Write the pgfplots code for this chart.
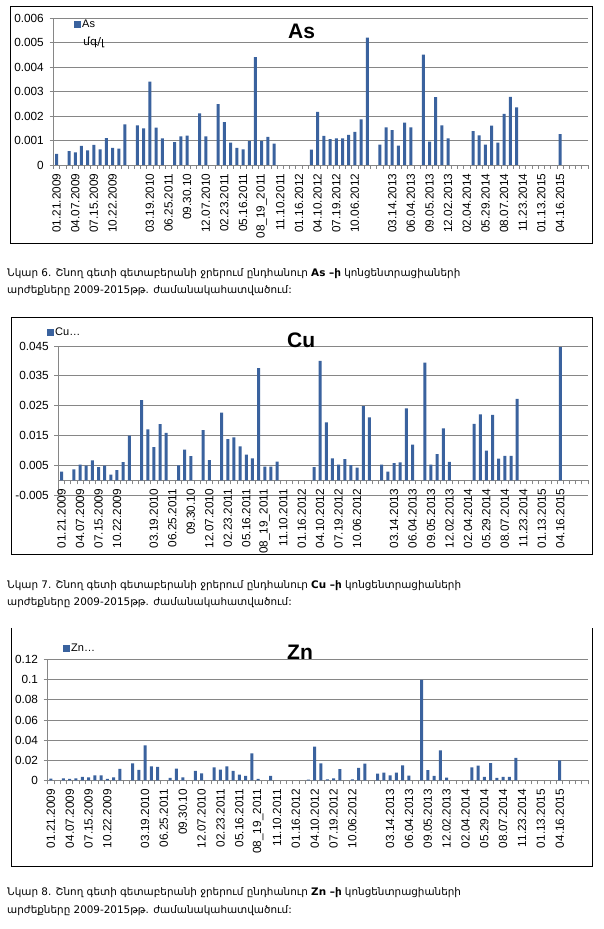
\documentclass[border=0pt]{standalone}
\usepackage{pgfplots}
\pgfplotsset{compat=1.18}
\usepackage{fontspec}
\setmainfont{Liberation Sans}
\newfontfamily\armfont{DejaVu Sans}
\definecolor{barcol}{RGB}{58,98,158}
\definecolor{gridcol}{RGB}{134,134,134}

\pgfplotsset{
  mybars/.style={
    scale only axis,
    xmin=-0.5, xmax=85.5,
    ybar, bar width=3pt,
    axis x line*=bottom, axis y line*=left,
    axis line style={gridcol, line width=0.8pt},
    ymajorgrids, major grid style={gridcol, line width=0.8pt},
    scaled y ticks=false,
    xtick={0,3,...,84},
    xticklabels={01.21.2009,04.07.2009,07.15.2009,10.22.2009,{},03.19.2010,06.25.2011,09.30.10,12.07.2010,02.23.2011,05.16.2011,08\_19\_2011,11.10.2011,01.16.2012,04.10.2012,07.19.2012,10.06.2012,{},03.14.2013,06.04.2013,09.05.2013,12.02.2013,02.04.2014,05.29.2014,08.07.2014,11.23.2014,01.13.2015,04.16.2015,{}},
    minor xtick={-0.5,0.5,...,85.5},
    major tick length=0pt, minor tick length=4pt,
    tick align=outside,
    tick style={gridcol, line width=0.8pt},
    xticklabel style={yshift=-7.5pt, rotate=90, anchor=east, font=\fontsize{11.8}{12}\selectfont, inner sep=1pt},
    yticklabel style={xshift=-8.5pt, font=\fontsize{11.8}{12}\selectfont, inner sep=1pt},
    legend style={draw=none, fill=none, font=\fontsize{11}{12}\selectfont, inner sep=0pt, nodes={inner sep=1pt}},
    legend image code/.code={\fill[barcol] (0pt,-3.5pt) rectangle (7pt,3.5pt);},
    cycle list={{fill=barcol, draw=none}},
  }
}

\begin{document}
\begin{tikzpicture}
\useasboundingbox (0pt,0pt) rectangle (603pt,929pt);
\fill[white] (0pt,0pt) rectangle (603pt,929pt);

% ---------------- As ----------------
\begin{axis}[mybars,
  at={(53.5pt,764pt)}, anchor=south west,
  width=534.5pt, height=147pt,
  ymin=0, ymax=0.006,
  ytick={0,0.001,0.002,0.003,0.004,0.005,0.006},
  minor ytick={0,0.001,0.002,0.003,0.004,0.005,0.006},
  yticklabels={0,0.001,0.002,0.003,0.004,0.005,0.006},
  legend style={at={(axis description cs:0.0384,0.959)}, anchor=west},
]
\addplot[fill=barcol, draw=none] coordinates {(0,0.00045) (2,0.00057) (3,0.00052) (4,0.00078) (5,0.0006) (6,0.00082) (7,0.00064) (8,0.0011) (9,0.0007) (10,0.00067) (11,0.00166) (13,0.00162) (14,0.00149) (15,0.0034) (16,0.00153) (17,0.00109) (19,0.00093) (20,0.00117) (21,0.0012) (23,0.00211) (24,0.00117) (26,0.00248) (27,0.00175) (28,0.00091) (29,0.0007) (30,0.00064) (31,0.00097) (32,0.0044) (33,0.00097) (34,0.00115) (35,0.00087) (41,0.00063) (42,0.00217) (43,0.00119) (44,0.00106) (45,0.00109) (46,0.00109) (47,0.00123) (48,0.00135) (49,0.00186) (50,0.0052) (52,0.00083) (53,0.00154) (54,0.00142) (55,0.00079) (56,0.00173) (57,0.00154) (59,0.0045) (60,0.00095) (61,0.00277) (62,0.00162) (63,0.00109) (67,0.00138) (68,0.00121) (69,0.00083) (70,0.00161) (71,0.00091) (72,0.00209) (73,0.00278) (74,0.00235) (81,0.00126)};
\addlegendentry{As}
\end{axis}

% ---------------- Cu ----------------
\begin{axis}[mybars,
  at={(58.5pt,433.7pt)}, anchor=south west,
  width=529.5pt, height=149.3pt,
  axis x line*=middle,
  tick align=outside,
  ymin=-0.005, ymax=0.045,
  ytick={-0.005,0.005,0.015,0.025,0.035,0.045},
  minor ytick={-0.005,0.005,0.015,0.025,0.035,0.045},
  yticklabels={-0.005,0.005,0.015,0.025,0.035,0.045},
  legend style={at={(axis description cs:-0.0217,1.09)}, anchor=west},
]
\addplot[fill=barcol, draw=none] coordinates {(0,0.0029) (2,0.0037) (3,0.0053) (4,0.0049) (5,0.0067) (6,0.0044) (7,0.0049) (8,0.0019) (9,0.0034) (10,0.0061) (11,0.015) (13,0.0269) (14,0.0171) (15,0.0111) (16,0.0188) (17,0.0159) (19,0.005) (20,0.0103) (21,0.0081) (23,0.0168) (24,0.0068) (26,0.0227) (27,0.0138) (28,0.0144) (29,0.0114) (30,0.0086) (31,0.0074) (32,0.0376) (33,0.0046) (34,0.0046) (35,0.0063) (41,0.0044) (42,0.04) (43,0.0194) (44,0.0074) (45,0.0053) (46,0.0071) (47,0.0051) (48,0.0043) (49,0.0249) (50,0.0211) (52,0.0053) (53,0.0029) (54,0.0058) (55,0.006) (56,0.0241) (57,0.012) (59,0.0394) (60,0.0053) (61,0.0088) (62,0.0174) (63,0.0062) (67,0.0189) (68,0.0221) (69,0.01) (70,0.0219) (71,0.0073) (72,0.0082) (73,0.0082) (74,0.0273) (81,0.0446)};
\addlegendentry{Cu…}
\end{axis}

% ---------------- Zn ----------------
\begin{axis}[mybars,
  at={(47.7pt,148.7pt)}, anchor=south west,
  width=540.3pt, height=120.6pt,
  ymin=0, ymax=0.12,
  ytick={0,0.02,0.04,0.06,0.08,0.1,0.12},
  minor ytick={0,0.02,0.04,0.06,0.08,0.1,0.12},
  yticklabels={0,0.02,0.04,0.06,0.08,0.1,0.12},
  legend style={at={(axis description cs:0.0283,1.097)}, anchor=west},
]
\addplot[fill=barcol, draw=none] coordinates {(0,0.0017) (2,0.002) (3,0.0013) (4,0.002) (5,0.0033) (6,0.003) (7,0.005) (8,0.005) (9,0.0013) (10,0.003) (11,0.0113) (13,0.0169) (14,0.0103) (15,0.0348) (16,0.0139) (17,0.0133) (19,0.0023) (20,0.0116) (21,0.003) (23,0.0093) (24,0.007) (26,0.0129) (27,0.0106) (28,0.0139) (29,0.0093) (30,0.0056) (31,0.0043) (32,0.0268) (33,0.0013) (35,0.0043) (41,0.0007) (42,0.0335) (43,0.0169) (44,0.001) (45,0.002) (46,0.011) (48,0.001) (49,0.0123) (50,0.0166) (52,0.0066) (53,0.0076) (54,0.005) (55,0.0076) (56,0.0149) (57,0.0046) (59,0.1) (60,0.01) (61,0.0043) (62,0.0298) (63,0.0027) (67,0.0129) (68,0.0146) (69,0.0033) (70,0.0172) (71,0.0023) (72,0.0033) (73,0.0033) (74,0.0222) (81,0.0199)};
\addlegendentry{Zn…}
\end{axis}

% titles
\node[anchor=base west, inner sep=0pt, font=\fontsize{21}{24}\selectfont\bfseries] at (288pt,890pt) {As};
\node[anchor=base west, inner sep=0pt, font=\fontsize{21}{24}\selectfont\bfseries] at (287pt,581pt) {Cu};
\node[anchor=base west, inner sep=0pt, font=\fontsize{21}{24}\selectfont\bfseries] at (287pt,269pt) {Zn};
\node[anchor=base west, inner sep=0pt, font=\armfont\fontsize{11}{12}\selectfont] at (83pt,883pt) {մգ/լ};

% frames
\draw[black, line width=0.9pt] (10pt,686pt) rectangle (592pt,923pt);
\draw[black, line width=0.9pt] (11pt,375pt) rectangle (592pt,612pt);
\draw[black, line width=0.9pt] (11pt,301pt) -- (11pt,63pt) -- (592pt,63pt) -- (592pt,301pt);

% captions
\begin{scope}[every node/.style={anchor=base west, inner sep=0pt, font=\armfont\fontsize{10.4}{12}\selectfont}]
\node at (7pt,652pt) {Նկար 6. Շնող գետի գետաբերանի ջրերում ընդհանուր \textbf{As –ի}  կոնցենտրացիաների};
\node at (7pt,635pt) {արժեքները 2009-2015թթ. ժամանակահատվածում:};
\node at (7pt,340pt) {Նկար 7. Շնող գետի գետաբերանի ջրերում ընդհանուր \textbf{Cu –ի}  կոնցենտրացիաների};
\node at (7pt,323pt) {արժեքները 2009-2015թթ. ժամանակահատվածում:};
\node at (7pt,33pt) {Նկար 8. Շնող գետի գետաբերանի ջրերում ընդհանուր \textbf{Zn –ի}  կոնցենտրացիաների};
\node at (7pt,16pt) {արժեքները 2009-2015թթ. ժամանակահատվածում:};
\end{scope}
\end{tikzpicture}
\end{document}
